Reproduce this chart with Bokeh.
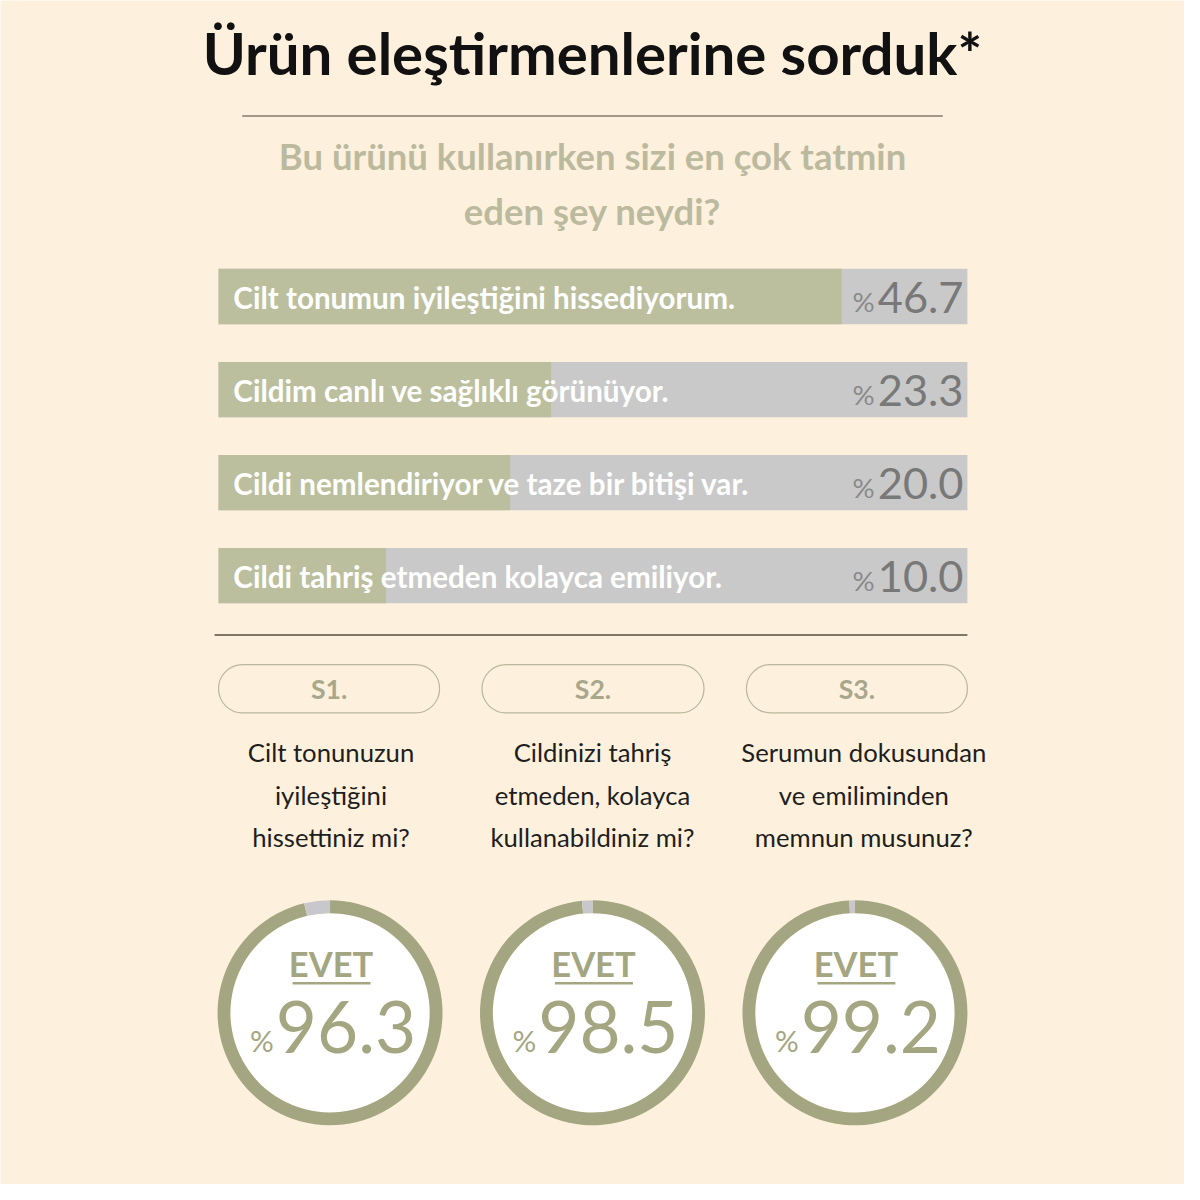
from bokeh.plotting import figure
from bokeh.models import Range1d
from bokeh.embed import file_html
from bokeh.resources import INLINE
from bokeh.core.properties import value
import numpy as np

# ---------------- data ----------------
title = "Ürün eleştirmenlerine sorduk*"
subtitle_lines = ["Bu ürünü kullanırken sizi en çok tatmin", "eden şey neydi?"]
bar_labels = [
    "Cilt tonumun iyileştiğini hissediyorum.",
    "Cildim canlı ve sağlıklı görünüyor.",
    "Cildi nemlendiriyor ve taze bir bitişi var.",
    "Cildi tahriş etmeden kolayca emiliyor.",
]
bar_values = [46.7, 23.3, 20.0, 10.0]
q_tags = ["S1.", "S2.", "S3."]
q_lines = [
    ["Cilt tonunuzun", "iyileştiğini", "hissettiniz mi?"],
    ["Cildinizi tahriş", "etmeden, kolayca", "kullanabildiniz mi?"],
    ["Serumun dokusundan", "ve emiliminden", "memnun musunuz?"],
]
yes_label = "EVET"
yes_values = [96.3, 98.5, 99.2]

# ---------------- style / layout ----------------
W = 1184
REF = 1200.0
S = W / REF
BG = "#fdf1dd"
OLIVE = "#a3a681"
BAR_GREEN = "#bbbf9e"
BAR_GRAY = "#c9c9c9"
RING_GRAY = "#c8c8cc"
FONT = value("Lato")


def fs(px):
    return f"{px * S:.1f}px"


def Y(t):
    return REF - t


p = figure(width=W, height=W, x_range=Range1d(0, REF), y_range=Range1d(0, REF),
           output_backend="svg", toolbar_location=None, min_border=0,
           x_axis_type=None, y_axis_type=None,
           background_fill_color=BG, border_fill_color=BG, outline_line_color=None)
p.grid.visible = False

# title
p.text(x=[600], y=[Y(53)], text=[title], text_font=FONT, text_font_style="bold",
       text_font_size=fs(59), text_align="center", text_baseline="middle", text_color="#111111")
p.segment(x0=[245], y0=[Y(117)], x1=[955], y1=[Y(117)], line_color="#857a68", line_width=1.5)

# subtitle
p.text(x=[600, 600], y=[Y(158), Y(213)], text=subtitle_lines, text_font=FONT, text_font_style="bold",
       text_font_size=fs(37), text_align="center", text_baseline="middle", text_color="#bcba9e")

# ---------------- bars (own scales) ----------------
PX_PER_PCT = 12.58
ZERO_PX = 265.0
p.extra_x_ranges["pct"] = Range1d(start=(0 - ZERO_PX) / PX_PER_PCT, end=(REF - ZERO_PX) / PX_PER_PCT)
ROW0, ROW_STEP = 300.0, 94.3
# rows: data y = REF - (ROW0 + ROW_STEP*i)  ->  i = (REF - ROW0 - y)/ROW_STEP
p.extra_y_ranges["rows"] = Range1d(start=(REF - ROW0) / ROW_STEP, end=(REF - ROW0 - REF) / ROW_STEP)
TRACK_MIN = (221 - ZERO_PX) / PX_PER_PCT
TRACK_MAX = (980 - ZERO_PX) / PX_PER_PCT
rows = list(range(len(bar_values)))
BAR_H = 56 / ROW_STEP

p.hbar(y=rows, left=TRACK_MIN, right=TRACK_MAX, height=BAR_H, fill_color=BAR_GRAY, line_color=None,
       x_range_name="pct", y_range_name="rows")
p.hbar(y=rows, left=TRACK_MIN, right=bar_values, height=BAR_H, fill_color=BAR_GREEN, line_color=None,
       x_range_name="pct", y_range_name="rows")
p.text(x=[236] * len(rows), y=[r + 1 / ROW_STEP for r in rows], text=bar_labels, text_font=FONT,
       text_font_style="bold", text_font_size=fs(30), text_align="left", text_baseline="middle",
       text_color="#ffffff", y_range_name="rows")
p.text(x=[976] * len(rows), y=[r + 1 / ROW_STEP for r in rows], text=[f"{v:.1f}" for v in bar_values],
       text_font=FONT, text_font_size=fs(44), text_align="right", text_baseline="middle",
       text_color="#787878", y_range_name="rows")
p.text(x=[886] * len(rows), y=[r + 5 / ROW_STEP for r in rows], text=["%"] * len(rows),
       text_font=FONT, text_font_size=fs(28), text_align="right", text_baseline="middle",
       text_color="#8a8a8a", y_range_name="rows")

p.segment(x0=[217], y0=[Y(643)], x1=[980], y1=[Y(643)], line_color="#7f7665", line_width=2)

# ---------------- questions ----------------
box_left = [221, 488, 756]
box_right = [445, 713, 980]
box_cx = [(a + b) / 2 for a, b in zip(box_left, box_right)]
q_cx = [335, 600, 875]
p.quad(left=box_left, right=box_right, top=[Y(673)] * 3, bottom=[Y(722)] * 3, border_radius=24,
       fill_alpha=0, line_color="#bab79c", line_width=1.2)
p.text(x=box_cx, y=[Y(698)] * 3, text=q_tags, text_font=FONT, text_font_style="bold",
       text_font_size=fs(27), text_align="center", text_baseline="middle", text_color="#a8a78b")
qx, qy, qt = [], [], []
for cx, lines in zip(q_cx, q_lines):
    for j, ln in enumerate(lines):
        qx.append(cx)
        qy.append(Y(762 + 43 * j))
        qt.append(ln)
p.text(x=qx, y=qy, text=qt, text_font=FONT, text_font_size=fs(26), text_align="center",
       text_baseline="middle", text_color="#1e1e1e")

# ---------------- donuts ----------------
d_cx = [334, 600, 866]
d_cy = [Y(1026)] * 3
R_OUT, R_IN = 114, 101
p.circle(x=d_cx, y=d_cy, radius=R_IN, fill_color="#ffffff", line_color=None)
top = np.pi / 2
gap = [(100 - v) / 100 * 2 * np.pi for v in yes_values]
p.annular_wedge(x=d_cx, y=d_cy, inner_radius=R_IN, outer_radius=R_OUT,
                start_angle=[top + g for g in gap], end_angle=[top + 2 * np.pi - 1e-6] * 3,
                direction="anticlock", fill_color=OLIVE, line_color=None)
p.annular_wedge(x=d_cx, y=d_cy, inner_radius=R_IN, outer_radius=R_OUT,
                start_angle=[top] * 3, end_angle=[top + g for g in gap],
                direction="anticlock", fill_color=RING_GRAY, line_color=None)
p.text(x=[c + 1 for c in d_cx], y=[Y(976)] * 3, text=[yes_label] * 3, text_font=FONT, text_font_style="bold",
       text_font_size=fs(35), text_align="center", text_baseline="middle", text_color=OLIVE)
p.segment(x0=[c - 38 for c in d_cx], y0=[Y(996)] * 3, x1=[c + 41 for c in d_cx], y1=[Y(996)] * 3,
          line_color=OLIVE, line_width=2.5)
p.text(x=[c - 55 for c in d_cx], y=[Y(1040)] * 3, text=[f"{v:.1f}" for v in yes_values],
       text_font=FONT, text_font_size=fs(72), text_align="left", text_baseline="middle",
       text_color=OLIVE)
p.text(x=[c - 57 for c in d_cx], y=[Y(1054)] * 3, text=["%"] * 3,
       text_font=FONT, text_font_size=fs(30), text_align="right", text_baseline="middle",
       text_color=OLIVE)

open("out.html", "w").write(file_html(p, INLINE))
